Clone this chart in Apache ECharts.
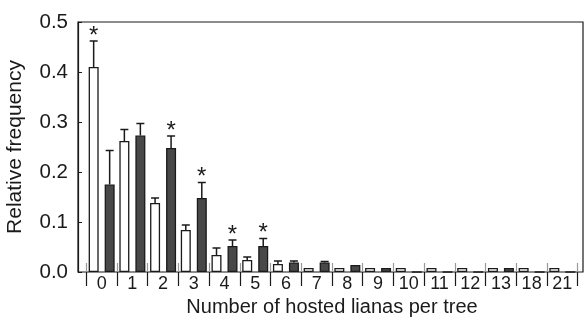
<!DOCTYPE html>
<html><head><meta charset="utf-8">
<script src="https://cdn.jsdelivr.net/npm/echarts@6/dist/echarts.min.js"></script>
<style>html,body{margin:0;padding:0;background:#fff}#c{width:584px;height:320px}</style>
</head><body><div id="c"></div>
<script>
const categories = ['0','1','2','3','4','5','6','7','8','9','10','11','12','13','18','21'];
const openValues   = [0.410,0.262,0.138,0.084,0.034,0.024,0.016,0.008,0.008,0.008,0.008,0.008,0.008,0.008,0.008,0.008];
const openUpper    = [0.462,0.285,0.148,0.094,0.048,0.030,0.022,null,null,null,null,null,null,null,null,null];
const openStars    = [1,0,0,0,0,0,0,0,0,0,0,0,0,0,0,0];
const filledValues = [0.175,0.273,0.248,0.148,0.052,0.052,0.019,0.019,0.014,0.008,0,0,0,0.008,0,0];
const filledUpper  = [0.243,0.297,0.272,0.179,0.064,0.067,0.022,0.021,null,null,null,null,null,null,null,null];
const filledStars  = [0,0,1,1,1,1,0,0,0,0,0,0,0,0,0,0];
const yTickLabels  = ['0.0','0.1','0.2','0.3','0.4','0.5'];

const BAR_W = 10, BAR_GAP = 6;
const INK = '#1a1a1a';
const FONT = 'Liberation Sans, Arial, sans-serif';

function errSeries(vals, upper, stars, side) {
  return {
    type: 'custom', xAxisIndex: 1, yAxisIndex: 1, z: 5,
    data: categories.map((c, i) => [i, vals[i], upper[i] == null ? vals[i] : upper[i], stars[i]]),
    encode: { x: 0, y: [1, 2] },
    renderItem: function (params, api) {
      const i = api.value(0), v = api.value(1), u = api.value(2), s = api.value(3);
      const off = side * (BAR_W + BAR_GAP) / 2;
      const p0 = api.coord([i, v]), p1 = api.coord([i, u]);
      const x = p0[0] + off;
      const children = [];
      if (u > v) {
        children.push({ type: 'line', shape: { x1: x, y1: p0[1], x2: x, y2: p1[1] }, style: { stroke: INK, lineWidth: 1.5 } });
        children.push({ type: 'line', shape: { x1: x - 4, y1: p1[1], x2: x + 4, y2: p1[1] }, style: { stroke: INK, lineWidth: 1.5 } });
      }
      if (s) {
        children.push({ type: 'text', style: { text: '*', x: x, y: p1[1] + 7, align: 'center', verticalAlign: 'bottom', fill: INK, font: '24px ' + FONT } });
      }
      return { type: 'group', children: children };
    }
  };
}

const chart = echarts.init(document.getElementById('c'), null, { renderer: 'canvas' });
chart.setOption({
  animation: false,
  backgroundColor: '#fff',
  textStyle: { fontFamily: FONT },
  grid: [
    { left: 78, right: 1, top: 22, height: 250, show: true, borderColor: INK, borderWidth: 1.2, backgroundColor: 'transparent', outerBoundsMode: 'none', containLabel: false },
    { left: 86.3, width: 491.4, top: 22, height: 250, outerBoundsMode: 'none', containLabel: false }
  ],
  xAxis: [
    { gridIndex: 0, type: 'value', min: 0, max: 1, show: false },
    { gridIndex: 1, type: 'category', data: categories, position: 'bottom',
      axisLine: { show: false },
      axisTick: { show: true, inside: false, length: 14, lineStyle: { color: INK, width: 1.2 } },
      axisLabel: { fontSize: 18, color: INK, margin: 3, interval: 0, fontFamily: FONT },
      name: 'Number of hosted lianas per tree', nameLocation: 'middle', nameGap: 21,
      nameTextStyle: { fontSize: 20, color: INK, fontFamily: FONT } },
    { gridIndex: 1, type: 'category', data: categories, position: 'bottom',
      axisLine: { show: false },
      axisTick: { show: true, inside: true, length: 9, lineStyle: { color: '#999', width: 1.2 } },
      axisLabel: { show: false } }
  ],
  yAxis: [
    { gridIndex: 0, type: 'value', min: 0, max: 0.5, interval: 0.1,
      axisLine: { show: true, lineStyle: { color: INK, width: 1.2 } },
      axisTick: { show: true, inside: true, length: 4, lineStyle: { color: INK } },
      axisLabel: { fontSize: 20.5, color: INK, margin: 10, fontFamily: FONT,
        formatter: function (v) { return yTickLabels[Math.round(v * 10)]; } },
      splitLine: { show: false },
      name: 'Relative frequency', nameLocation: 'middle', nameGap: 52,
      nameTextStyle: { fontSize: 21, color: INK, fontFamily: FONT } },
    { gridIndex: 1, type: 'value', min: 0, max: 0.5, interval: 0.1, show: false, splitLine: { show: false } }
  ],
  series: [
    { type: 'bar', xAxisIndex: 1, yAxisIndex: 1, data: openValues, barWidth: BAR_W, barGap: (BAR_GAP / BAR_W * 100) + '%',
      itemStyle: { color: '#fff', borderColor: INK, borderWidth: 1.3 } },
    { type: 'bar', xAxisIndex: 1, yAxisIndex: 1, data: filledValues, barWidth: BAR_W,
      itemStyle: { color: '#484848', borderColor: INK, borderWidth: 1.3 } },
    errSeries(openValues, openUpper, openStars, -1),
    errSeries(filledValues, filledUpper, filledStars, 1)
  ]
});
</script></body></html>
